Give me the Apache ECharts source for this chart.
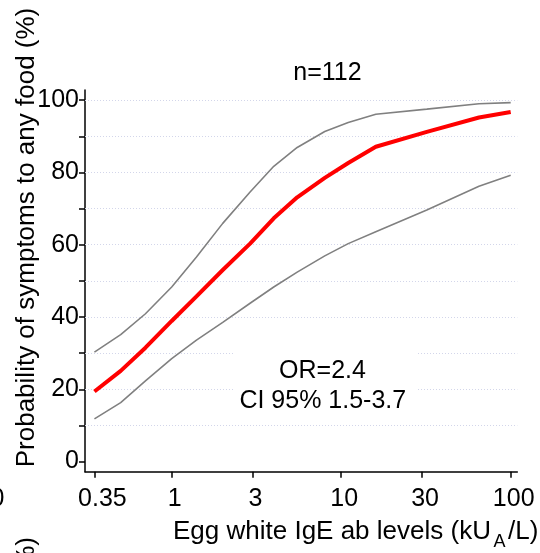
<!DOCTYPE html>
<html>
<head>
<meta charset="utf-8">
<script src="https://cdn.jsdelivr.net/npm/echarts@6/dist/echarts.min.js"></script>
<style>html,body{margin:0;padding:0;background:#fff;}#c{width:540px;height:553px;}</style>
</head>
<body>
<div id="c"></div>
<script>
// ---- data ----
const igeLevels = [0.35, 0.5, 0.7, 1, 1.4, 2, 2.9, 4, 5.5, 8, 11, 16, 32, 65, 100];
const probability = [19.4, 25.1, 31.5, 38.9, 45.7, 53.0, 60.3, 67.3, 73.1, 78.5, 82.6, 87.1, 91.2, 95.2, 96.7];
const upperCI = [30.3, 35.1, 40.9, 48.3, 56.6, 65.9, 74.6, 81.7, 86.9, 91.3, 93.8, 96.1, 97.5, 99.0, 99.3];
const lowerCI = [11.8, 16.3, 22.3, 28.5, 33.6, 38.5, 43.8, 48.3, 52.4, 56.9, 60.3, 63.6, 69.6, 76.2, 79.2];
const xTickValues = [0.35, 1, 3, 10, 30, 100];
const xTickLabels = ['0.35', '1', '3', '10', '30', '100'];
const yTickValues = [0, 10, 20, 30, 40, 50, 60, 70, 80, 90, 100];
const yLabelValues = [0, 20, 40, 60, 80, 100];
const yGridValues = [10, 20, 30, 40, 50, 60, 70, 80, 90, 100];
const titleText = 'n=112';
const orText = 'OR=2.4';
const ciText = 'CI 95% 1.5-3.7';
const yTitle = 'Probability of symptoms to any food (%)';
const xTitleMain = 'Egg white IgE ab levels (kU';
const xTitleSub = 'A';
const xTitleEnd = '/L)';

const FONT = '"Liberation Sans", Arial, Helvetica, sans-serif';
const pairs = arr => igeLevels.map((x, i) => [x, arr[i]]);

const chart = echarts.init(document.getElementById('c'), null, {renderer: 'canvas'});
const option = {
  animation: false,
  backgroundColor: '#fff',
  textStyle: {fontFamily: FONT},
  grid: {left: 85, right: 22.7, top: 90, bottom: 81.3, containLabel: false, outerBoundsMode: 'none'},
  xAxis: {
    type: 'log', logBase: 10, min: 0.3079, max: 109.4,
    axisLine: {show: true, onZero: false, lineStyle: {color: '#000', width: 1.5}},
    axisTick: {show: true, customValues: xTickValues, length: 6, lineStyle: {color: '#000', width: 1.5}},
    minorTick: {show: false},
    splitLine: {show: false},
    axisLabel: {
      customValues: xTickValues, margin: 15, color: '#000', fontSize: 25, fontFamily: FONT,
      formatter: function (v) {
        let idx = 0, best = 1e9;
        xTickValues.forEach((t, i) => { const d = Math.abs(Math.log10(t) - Math.log10(v)); if (d < best) { best = d; idx = i; } });
        return (idx === 0 ? '{f|' : '{s|') + xTickLabels[idx] + '}';
      },
      rich: {
        f: {fontSize: 25, color: '#000', fontFamily: FONT, padding: [0, 0, 0, 16]},
        s: {fontSize: 25, color: '#000', fontFamily: FONT, padding: [0, 0, 0, 6]}
      }
    }
  },
  yAxis: {
    type: 'value', min: -2.8, max: 102.8,
    axisLine: {show: true, onZero: false, lineStyle: {color: '#000', width: 1.5}},
    axisTick: {show: true, customValues: yTickValues, length: 6, lineStyle: {color: '#000', width: 1.5}},
    splitLine: {show: false},
    axisLabel: {customValues: yLabelValues, margin: 6, color: '#000', fontSize: 25, fontFamily: FONT}
  },
  series: [
    {
      type: 'line', data: [], silent: true, z: 1,
      markLine: {
        silent: true, z: 1, symbol: ['none', 'none'], animation: false,
        label: {show: false},
        lineStyle: {color: '#d3d6ea', width: 1, type: [1, 2]},
        data: yGridValues.map(v => ({yAxis: v}))
      }
    },
    {type: 'line', data: pairs(lowerCI), showSymbol: false, symbol: 'none', z: 3,
     lineStyle: {color: '#808080', width: 1.6}},
    {type: 'line', data: pairs(upperCI), showSymbol: false, symbol: 'none', z: 3,
     lineStyle: {color: '#808080', width: 1.6}},
    {type: 'line', data: pairs(probability), showSymbol: false, symbol: 'none', z: 4,
     lineStyle: {color: '#ff0000', width: 4}}
  ],
  graphic: [
    {type: 'text', z: 10, x: 327.5, y: 73.3, style: {text: titleText, font: '25px ' + FONT, fill: '#000', align: 'center', verticalAlign: 'middle'}},
    {type: 'rect', z: 9, shape: {x: 235, y: 350, width: 183, height: 66}, style: {fill: '#fff'}},
    {type: 'text', z: 10, x: 322.5, y: 370.8, style: {text: orText, font: '25px ' + FONT, fill: '#000', align: 'center', verticalAlign: 'middle'}},
    {type: 'text', z: 10, x: 322.8, y: 401.5, style: {text: ciText, font: '25px ' + FONT, fill: '#000', align: 'center', verticalAlign: 'middle'}},
    {type: 'text', z: 10, x: 26.5, y: 237.5, rotation: Math.PI / 2, style: {text: yTitle, font: '26px ' + FONT, fill: '#000', align: 'center', verticalAlign: 'middle'}},
    {type: 'text', z: 10, x: 173, y: 532, style: {text: xTitleMain, font: '26px ' + FONT, fill: '#000', align: 'left', verticalAlign: 'middle'}},
    {type: 'text', z: 10, x: 493.5, y: 542.5, style: {text: xTitleSub, font: '18px ' + FONT, fill: '#000', align: 'left', verticalAlign: 'middle'}},
    {type: 'text', z: 10, x: 508, y: 532, style: {text: xTitleEnd, font: '26px ' + FONT, fill: '#000', align: 'left', verticalAlign: 'middle'}},
    // fragments of neighbouring panels visible at the edges
    {type: 'text', z: 10, x: 4.5, y: 499, style: {text: '100', font: '25px ' + FONT, fill: '#000', align: 'right', verticalAlign: 'middle'}},
    {type: 'text', z: 10, x: 26.5, y: 537, rotation: Math.PI / 2, style: {text: 'food (%)', font: '26px ' + FONT, fill: '#000', align: 'right', verticalAlign: 'middle'}}
  ]
};
chart.setOption(option);
</script>
</body>
</html>
